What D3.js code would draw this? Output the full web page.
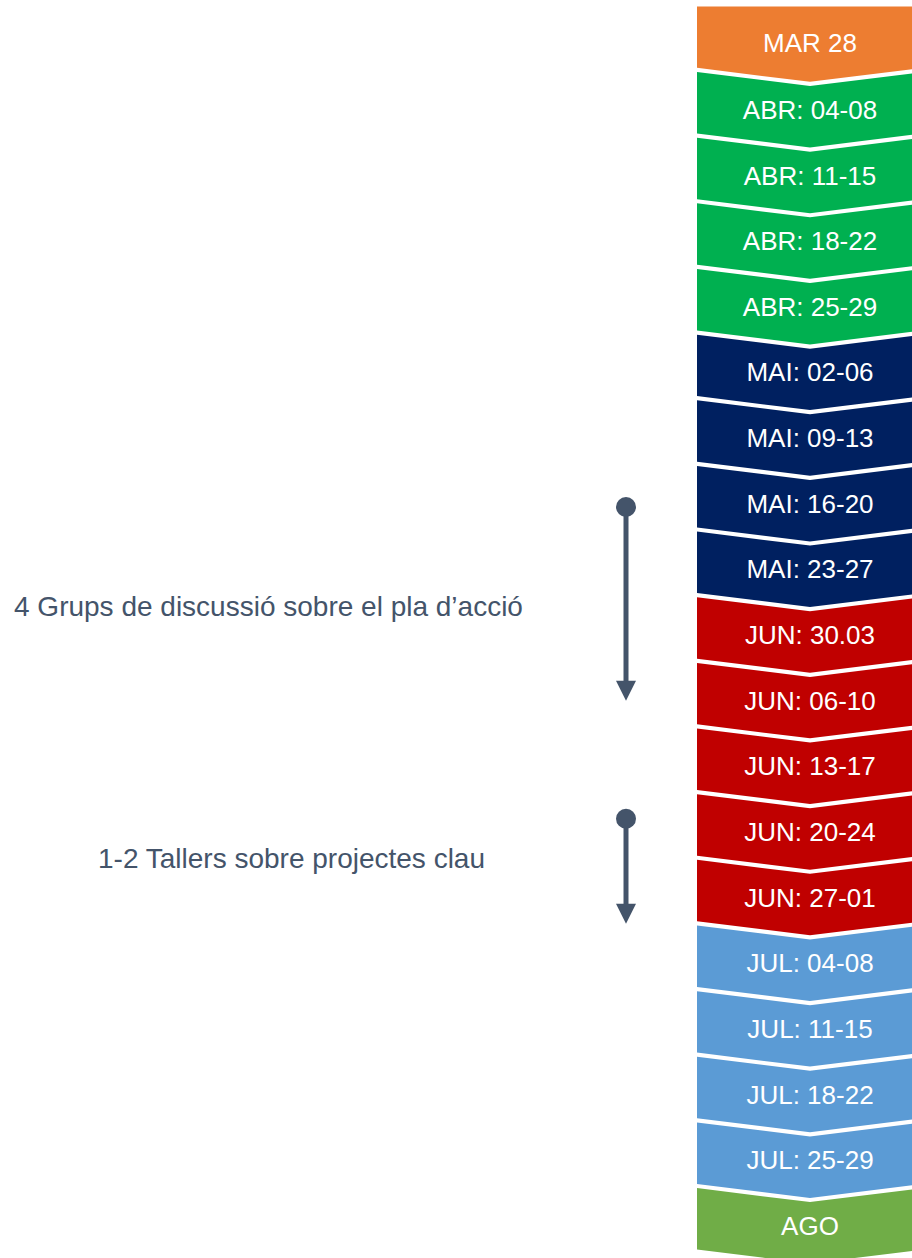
<!DOCTYPE html>
<html><head><meta charset="utf-8">
<script src="https://cdn.jsdelivr.net/npm/d3@7"></script>
<style>html,body{margin:0;padding:0;background:#fff;}svg{display:block;}</style>
</head><body>
<script>
const weeks = ["MAR 28","ABR: 04-08","ABR: 11-15","ABR: 18-22","ABR: 25-29","MAI: 02-06","MAI: 09-13","MAI: 16-20","MAI: 23-27","JUN: 30.03","JUN: 06-10","JUN: 13-17","JUN: 20-24","JUN: 27-01","JUL: 04-08","JUL: 11-15","JUL: 18-22","JUL: 25-29","AGO"];
const months = ["MAR","ABR","ABR","ABR","ABR","MAI","MAI","MAI","MAI","JUN","JUN","JUN","JUN","JUN","JUL","JUL","JUL","JUL","AGO"];
const monthNames = ["MAR","ABR","MAI","JUN","JUL","AGO"];
const monthColors = ["#ED7D31","#00B050","#002060","#C00000","#5B9BD5","#70AD47"];
const activities = ["4 Grups de discussió sobre el pla d’acció","1-2 Tallers sobre projectes clau"];
const actStart = [7.05, 11.8];   // in week-index units (centre positions)
const actEnd = [10.0, 13.4];
const actLabelPos = [8.56, 12.4];
const actLabelX = [14, 98];

const W = 912, H = 1258;
const svg = d3.select("body").append("svg").attr("width", W).attr("height", H);

const P = 65.65, gap = 4.2, depth = 14;
const y = d3.scaleLinear().domain([0, 1]).range([6.4, 6.4 + P]);     // index -> top-left y
const yc = i => y(i) + (P - gap + depth) / 2;                            // index -> visual centre
const x0 = 697, xc = 810, x1 = 923;
const color = d3.scaleOrdinal().domain(monthNames).range(monthColors);

const g = svg.append("g");
weeks.forEach((w, i) => {
  const t = y(i), b = y(i) + P - gap;
  const topD = i === 0 ? 0 : depth;
  const pts = [[x0, t], [xc, t + topD], [x1, t], [x1, b], [xc, b + depth], [x0, b]];
  g.append("path").attr("d", d3.line()(pts) + "Z").attr("fill", color(months[i]));
  const cy = i === 0 ? y(i) + 36 : yc(i);
  g.append("text").attr("x", xc).attr("y", cy).attr("dy", "0.35em")
    .attr("text-anchor", "middle").attr("fill", "#fff")
    .attr("font-family", "Liberation Sans, Arial, sans-serif").attr("font-size", 26)
    .text(w);
});

const ac = "#44546A", ax = 626;
activities.forEach((a, k) => {
  const ys = yc(actStart[k]), ye = yc(actEnd[k]);
  svg.append("line").attr("x1", ax).attr("x2", ax).attr("y1", ys).attr("y2", ye - 18)
    .attr("stroke", ac).attr("stroke-width", 5);
  svg.append("circle").attr("cx", ax).attr("cy", ys).attr("r", 10).attr("fill", ac);
  svg.append("path").attr("d", d3.line()([[ax - 10, ye - 20], [ax + 10, ye - 20], [ax, ye]]) + "Z").attr("fill", ac);
  svg.append("text").attr("x", actLabelX[k]).attr("y", yc(actLabelPos[k])).attr("dy", "0.35em")
    .attr("fill", ac).attr("font-family", "Liberation Sans, Arial, sans-serif").attr("font-size", 28)
    .text(a);
});
</script>
</body></html>
